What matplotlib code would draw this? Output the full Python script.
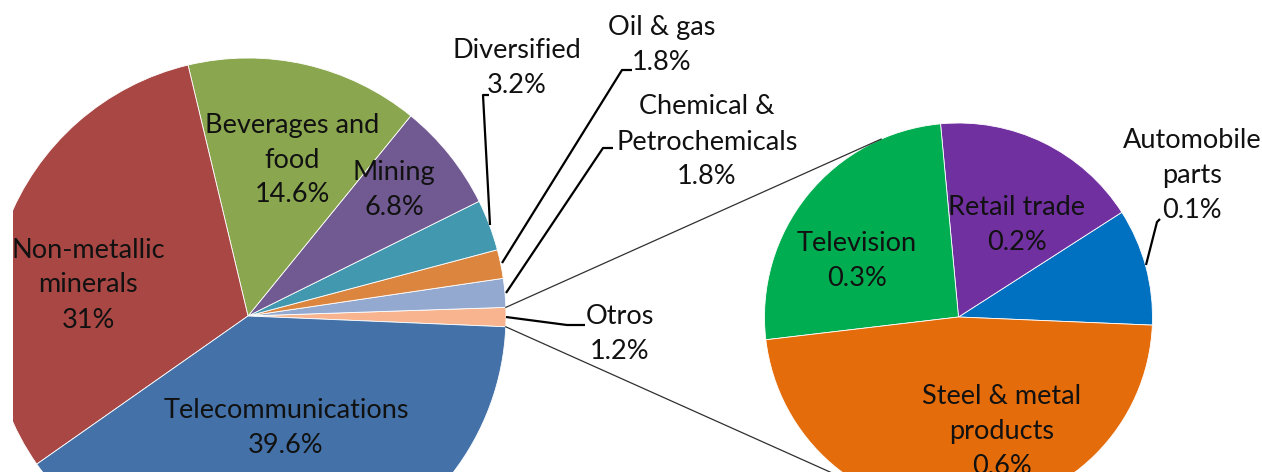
import numpy as np
import matplotlib
matplotlib.use('Agg')
import matplotlib.pyplot as plt

# main pie: "Otros" first, then going round counter-clockwise
main_labels = ['Otros', 'Chemical &\nPetrochemicals', 'Oil & gas', 'Diversified',
               'Mining', 'Beverages and\nfood', 'Non-metallic\nminerals', 'Telecommunications']
main_values = [1.2, 1.8, 1.8, 3.2, 6.8, 14.6, 31.0, 39.6]
main_pct = ['1.2%', '1.8%', '1.8%', '3.2%', '6.8%', '14.6%', '31%', '39.6%']
main_colors = ['#F8B48F', '#94A9D0', '#DB853E', '#4198AF', '#715A91', '#8AA64F', '#A84744', '#4472A8']

# breakdown of "Otros"
sub_labels = ['Automobile\nparts', 'Retail trade', 'Television', 'Steel & metal\nproducts']
sub_values = [0.117, 0.209, 0.305, 0.57]
sub_pct = ['0.1%', '0.2%', '0.3%', '0.6%']
sub_colors = ['#0070C0', '#7030A0', '#00AD50', '#E46C0A']

plt.rcParams['font.family'] = ['Lato', 'DejaVu Sans']

fig = plt.figure(figsize=(12.62, 4.72), dpi=100)
ax = fig.add_axes([13 / 1262, 0, 1249 / 1262, 1])

c1, r1 = (248, 316), 258
c2, r2 = (958.5, 317), 194
start = 2.4  # y axis is flipped, so angles run clockwise in data

w1, _ = ax.pie(main_values, colors=main_colors, center=c1, radius=r1,
               startangle=start, counterclock=False,
               wedgeprops=dict(edgecolor='white', linewidth=0.6))
w2, _ = ax.pie(sub_values, colors=sub_colors, center=c2, radius=r2,
               startangle=start, counterclock=False,
               wedgeprops=dict(edgecolor='white', linewidth=0.6))
for w in list(w1) + list(w2):
    w.set_clip_on(True)

ax.set_xlim(13, 1262)
ax.set_ylim(472, 0)
ax.set_aspect('equal')
ax.axis('off')

# connector lines between the "Otros" slice and the second pie
ot = w1[0]
a_top = np.radians(ot.theta1)
a_bot = np.radians(ot.theta2)
p_top = (c1[0] + r1 * np.cos(a_top), c1[1] + r1 * np.sin(a_top))
p_bot = (c1[0] + r1 * np.cos(a_bot), c1[1] + r1 * np.sin(a_bot))
t = np.radians(113.5)
q_top = (c2[0] + r2 * np.cos(t), c2[1] - r2 * np.sin(t))
q_bot = (c2[0] + r2 * np.cos(t), c2[1] + r2 * np.sin(t))
ax.plot([p_top[0], q_top[0]], [p_top[1], q_top[1]], color='#303030', lw=0.9)
ax.plot([p_bot[0], q_bot[0]], [p_bot[1], q_bot[1]], color='#303030', lw=0.9)

fs = 19.5
tc = '#111111'
step = 35


def label(x, y, txt):
    # one text per line so that lines sit 35px apart like the original
    lines = txt.split('\n')
    y0 = y - step * (len(lines) - 1) / 2
    for i, ln in enumerate(lines):
        ax.text(x, y0 + i * step, ln, ha='center', va='center',
                fontsize=fs, color=tc)


# label positions (pixels)
main_pos = [(620, 334), (707, 142), (662, 45), (517, 68),
            (394, 190), (292, 160), (88, 285), (286, 428)]
for lab, pct, pos in zip(main_labels, main_pct, main_pos):
    label(pos[0], pos[1], lab + '\n' + pct)

sub_pos = [(1192, 175), (1017, 225), (857, 261), (1002, 432)]
for lab, pct, pos in zip(sub_labels, sub_pct, sub_pos):
    label(pos[0], pos[1], lab + '\n' + pct)

# leader lines
leaders = [
    [(490, 225), (483, 95), (489, 95)],
    [(502, 263), (622, 70), (632, 70)],
    [(506, 293), (603, 148), (613, 148)],
    [(506, 317), (567, 325), (585, 325)],
    [(1146, 265), (1157, 222), (1160, 219)],
]
for pts in leaders:
    xs, ys = zip(*pts)
    ax.plot(xs, ys, color='black', lw=1.6, solid_capstyle='butt')

fig.savefig('out.png', dpi=100)
